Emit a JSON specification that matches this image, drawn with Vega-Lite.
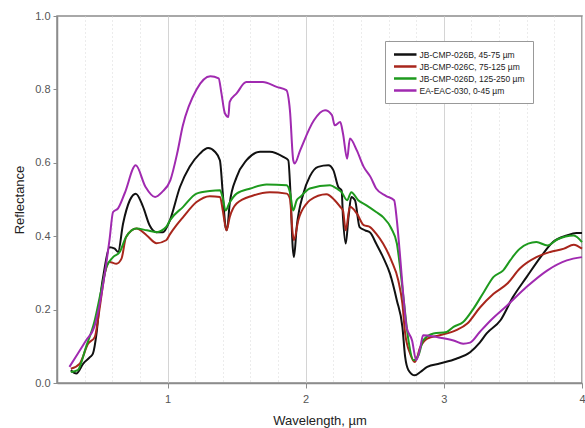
{
  "$schema": "https://vega.github.io/schema/vega-lite/v6.json",
  "width": 525,
  "height": 367,
  "autosize": {"type": "none"},
  "padding": {"left": 57, "top": 16, "right": 3, "bottom": 45},
  "background": "white",
  "config": {
    "font": "Liberation Sans",
    "view": {"stroke": "#8c8c8c", "strokeWidth": 1.5}
  },
  "datasets": {
    "spectra": [
      {"s": "JB-CMP-026B, 45-75 µm", "wl": 0.30, "r": 0.035},
      {"s": "JB-CMP-026B, 45-75 µm", "wl": 0.34, "r": 0.026},
      {"s": "JB-CMP-026B, 45-75 µm", "wl": 0.39, "r": 0.053},
      {"s": "JB-CMP-026B, 45-75 µm", "wl": 0.44, "r": 0.071},
      {"s": "JB-CMP-026B, 45-75 µm", "wl": 0.46, "r": 0.08},
      {"s": "JB-CMP-026B, 45-75 µm", "wl": 0.486, "r": 0.135},
      {"s": "JB-CMP-026B, 45-75 µm", "wl": 0.51, "r": 0.225},
      {"s": "JB-CMP-026B, 45-75 µm", "wl": 0.546, "r": 0.316},
      {"s": "JB-CMP-026B, 45-75 µm", "wl": 0.58, "r": 0.37},
      {"s": "JB-CMP-026B, 45-75 µm", "wl": 0.618, "r": 0.366},
      {"s": "JB-CMP-026B, 45-75 µm", "wl": 0.642, "r": 0.357},
      {"s": "JB-CMP-026B, 45-75 µm", "wl": 0.678, "r": 0.434},
      {"s": "JB-CMP-026B, 45-75 µm", "wl": 0.727, "r": 0.498},
      {"s": "JB-CMP-026B, 45-75 µm", "wl": 0.77, "r": 0.516},
      {"s": "JB-CMP-026B, 45-75 µm", "wl": 0.823, "r": 0.48},
      {"s": "JB-CMP-026B, 45-75 µm", "wl": 0.87, "r": 0.43},
      {"s": "JB-CMP-026B, 45-75 µm", "wl": 0.92, "r": 0.411},
      {"s": "JB-CMP-026B, 45-75 µm", "wl": 0.968, "r": 0.411},
      {"s": "JB-CMP-026B, 45-75 µm", "wl": 1.017, "r": 0.443},
      {"s": "JB-CMP-026B, 45-75 µm", "wl": 1.09, "r": 0.534},
      {"s": "JB-CMP-026B, 45-75 µm", "wl": 1.16, "r": 0.589},
      {"s": "JB-CMP-026B, 45-75 µm", "wl": 1.234, "r": 0.625},
      {"s": "JB-CMP-026B, 45-75 µm", "wl": 1.294, "r": 0.64},
      {"s": "JB-CMP-026B, 45-75 µm", "wl": 1.343, "r": 0.63},
      {"s": "JB-CMP-026B, 45-75 µm", "wl": 1.379, "r": 0.607},
      {"s": "JB-CMP-026B, 45-75 µm", "wl": 1.40, "r": 0.516},
      {"s": "JB-CMP-026B, 45-75 µm", "wl": 1.42, "r": 0.425},
      {"s": "JB-CMP-026B, 45-75 µm", "wl": 1.43, "r": 0.416},
      {"s": "JB-CMP-026B, 45-75 µm", "wl": 1.45, "r": 0.489},
      {"s": "JB-CMP-026B, 45-75 µm", "wl": 1.50, "r": 0.561},
      {"s": "JB-CMP-026B, 45-75 µm", "wl": 1.572, "r": 0.607},
      {"s": "JB-CMP-026B, 45-75 µm", "wl": 1.67, "r": 0.63},
      {"s": "JB-CMP-026B, 45-75 µm", "wl": 1.74, "r": 0.63},
      {"s": "JB-CMP-026B, 45-75 µm", "wl": 1.838, "r": 0.616},
      {"s": "JB-CMP-026B, 45-75 µm", "wl": 1.874, "r": 0.607},
      {"s": "JB-CMP-026B, 45-75 µm", "wl": 1.89, "r": 0.516},
      {"s": "JB-CMP-026B, 45-75 µm", "wl": 1.906, "r": 0.37},
      {"s": "JB-CMP-026B, 45-75 µm", "wl": 1.915, "r": 0.343},
      {"s": "JB-CMP-026B, 45-75 µm", "wl": 1.935, "r": 0.425},
      {"s": "JB-CMP-026B, 45-75 µm", "wl": 1.983, "r": 0.516},
      {"s": "JB-CMP-026B, 45-75 µm", "wl": 2.03, "r": 0.563},
      {"s": "JB-CMP-026B, 45-75 µm", "wl": 2.09, "r": 0.589},
      {"s": "JB-CMP-026B, 45-75 µm", "wl": 2.164, "r": 0.593},
      {"s": "JB-CMP-026B, 45-75 µm", "wl": 2.20, "r": 0.58},
      {"s": "JB-CMP-026B, 45-75 µm", "wl": 2.236, "r": 0.534},
      {"s": "JB-CMP-026B, 45-75 µm", "wl": 2.26, "r": 0.525},
      {"s": "JB-CMP-026B, 45-75 µm", "wl": 2.27, "r": 0.452},
      {"s": "JB-CMP-026B, 45-75 µm", "wl": 2.29, "r": 0.38},
      {"s": "JB-CMP-026B, 45-75 µm", "wl": 2.31, "r": 0.452},
      {"s": "JB-CMP-026B, 45-75 µm", "wl": 2.33, "r": 0.507},
      {"s": "JB-CMP-026B, 45-75 µm", "wl": 2.357, "r": 0.498},
      {"s": "JB-CMP-026B, 45-75 µm", "wl": 2.39, "r": 0.425},
      {"s": "JB-CMP-026B, 45-75 µm", "wl": 2.43, "r": 0.416},
      {"s": "JB-CMP-026B, 45-75 µm", "wl": 2.466, "r": 0.41},
      {"s": "JB-CMP-026B, 45-75 µm", "wl": 2.51, "r": 0.38},
      {"s": "JB-CMP-026B, 45-75 µm", "wl": 2.56, "r": 0.343},
      {"s": "JB-CMP-026B, 45-75 µm", "wl": 2.61, "r": 0.298},
      {"s": "JB-CMP-026B, 45-75 µm", "wl": 2.66, "r": 0.225},
      {"s": "JB-CMP-026B, 45-75 µm", "wl": 2.70, "r": 0.153},
      {"s": "JB-CMP-026B, 45-75 µm", "wl": 2.72, "r": 0.071},
      {"s": "JB-CMP-026B, 45-75 µm", "wl": 2.744, "r": 0.035},
      {"s": "JB-CMP-026B, 45-75 µm", "wl": 2.79, "r": 0.021},
      {"s": "JB-CMP-026B, 45-75 µm", "wl": 2.83, "r": 0.03},
      {"s": "JB-CMP-026B, 45-75 µm", "wl": 2.88, "r": 0.044},
      {"s": "JB-CMP-026B, 45-75 µm", "wl": 2.97, "r": 0.053},
      {"s": "JB-CMP-026B, 45-75 µm", "wl": 3.09, "r": 0.066},
      {"s": "JB-CMP-026B, 45-75 µm", "wl": 3.19, "r": 0.084},
      {"s": "JB-CMP-026B, 45-75 µm", "wl": 3.26, "r": 0.11},
      {"s": "JB-CMP-026B, 45-75 µm", "wl": 3.31, "r": 0.135},
      {"s": "JB-CMP-026B, 45-75 µm", "wl": 3.41, "r": 0.171},
      {"s": "JB-CMP-026B, 45-75 µm", "wl": 3.50, "r": 0.234},
      {"s": "JB-CMP-026B, 45-75 µm", "wl": 3.60, "r": 0.289},
      {"s": "JB-CMP-026B, 45-75 µm", "wl": 3.70, "r": 0.343},
      {"s": "JB-CMP-026B, 45-75 µm", "wl": 3.79, "r": 0.384},
      {"s": "JB-CMP-026B, 45-75 µm", "wl": 3.89, "r": 0.402},
      {"s": "JB-CMP-026B, 45-75 µm", "wl": 3.96, "r": 0.409},
      {"s": "JB-CMP-026B, 45-75 µm", "wl": 4.00, "r": 0.409},

      {"s": "JB-CMP-026C, 75-125 µm", "wl": 0.30, "r": 0.039},
      {"s": "JB-CMP-026C, 75-125 µm", "wl": 0.365, "r": 0.053},
      {"s": "JB-CMP-026C, 75-125 µm", "wl": 0.425, "r": 0.107},
      {"s": "JB-CMP-026C, 75-125 µm", "wl": 0.473, "r": 0.125},
      {"s": "JB-CMP-026C, 75-125 µm", "wl": 0.51, "r": 0.207},
      {"s": "JB-CMP-026C, 75-125 µm", "wl": 0.546, "r": 0.298},
      {"s": "JB-CMP-026C, 75-125 µm", "wl": 0.58, "r": 0.33},
      {"s": "JB-CMP-026C, 75-125 µm", "wl": 0.63, "r": 0.325},
      {"s": "JB-CMP-026C, 75-125 µm", "wl": 0.667, "r": 0.339},
      {"s": "JB-CMP-026C, 75-125 µm", "wl": 0.70, "r": 0.398},
      {"s": "JB-CMP-026C, 75-125 µm", "wl": 0.775, "r": 0.421},
      {"s": "JB-CMP-026C, 75-125 µm", "wl": 0.85, "r": 0.402},
      {"s": "JB-CMP-026C, 75-125 µm", "wl": 0.92, "r": 0.381},
      {"s": "JB-CMP-026C, 75-125 µm", "wl": 0.99, "r": 0.389},
      {"s": "JB-CMP-026C, 75-125 µm", "wl": 1.017, "r": 0.405},
      {"s": "JB-CMP-026C, 75-125 µm", "wl": 1.065, "r": 0.43},
      {"s": "JB-CMP-026C, 75-125 µm", "wl": 1.113, "r": 0.452},
      {"s": "JB-CMP-026C, 75-125 µm", "wl": 1.21, "r": 0.493},
      {"s": "JB-CMP-026C, 75-125 µm", "wl": 1.306, "r": 0.509},
      {"s": "JB-CMP-026C, 75-125 µm", "wl": 1.38, "r": 0.507},
      {"s": "JB-CMP-026C, 75-125 µm", "wl": 1.40, "r": 0.47},
      {"s": "JB-CMP-026C, 75-125 µm", "wl": 1.427, "r": 0.416},
      {"s": "JB-CMP-026C, 75-125 µm", "wl": 1.45, "r": 0.452},
      {"s": "JB-CMP-026C, 75-125 µm", "wl": 1.50, "r": 0.489},
      {"s": "JB-CMP-026C, 75-125 µm", "wl": 1.62, "r": 0.511},
      {"s": "JB-CMP-026C, 75-125 µm", "wl": 1.74, "r": 0.52},
      {"s": "JB-CMP-026C, 75-125 µm", "wl": 1.862, "r": 0.516},
      {"s": "JB-CMP-026C, 75-125 µm", "wl": 1.886, "r": 0.502},
      {"s": "JB-CMP-026C, 75-125 µm", "wl": 1.906, "r": 0.407},
      {"s": "JB-CMP-026C, 75-125 µm", "wl": 1.915, "r": 0.389},
      {"s": "JB-CMP-026C, 75-125 µm", "wl": 1.946, "r": 0.443},
      {"s": "JB-CMP-026C, 75-125 µm", "wl": 2.007, "r": 0.489},
      {"s": "JB-CMP-026C, 75-125 µm", "wl": 2.03, "r": 0.498},
      {"s": "JB-CMP-026C, 75-125 µm", "wl": 2.15, "r": 0.514},
      {"s": "JB-CMP-026C, 75-125 µm", "wl": 2.21, "r": 0.498},
      {"s": "JB-CMP-026C, 75-125 µm", "wl": 2.25, "r": 0.48},
      {"s": "JB-CMP-026C, 75-125 µm", "wl": 2.27, "r": 0.47},
      {"s": "JB-CMP-026C, 75-125 µm", "wl": 2.29, "r": 0.416},
      {"s": "JB-CMP-026C, 75-125 µm", "wl": 2.32, "r": 0.48},
      {"s": "JB-CMP-026C, 75-125 µm", "wl": 2.37, "r": 0.462},
      {"s": "JB-CMP-026C, 75-125 µm", "wl": 2.42, "r": 0.43},
      {"s": "JB-CMP-026C, 75-125 µm", "wl": 2.466, "r": 0.425},
      {"s": "JB-CMP-026C, 75-125 µm", "wl": 2.51, "r": 0.407},
      {"s": "JB-CMP-026C, 75-125 µm", "wl": 2.56, "r": 0.38},
      {"s": "JB-CMP-026C, 75-125 µm", "wl": 2.62, "r": 0.334},
      {"s": "JB-CMP-026C, 75-125 µm", "wl": 2.67, "r": 0.28},
      {"s": "JB-CMP-026C, 75-125 µm", "wl": 2.70, "r": 0.216},
      {"s": "JB-CMP-026C, 75-125 µm", "wl": 2.72, "r": 0.135},
      {"s": "JB-CMP-026C, 75-125 µm", "wl": 2.756, "r": 0.08},
      {"s": "JB-CMP-026C, 75-125 µm", "wl": 2.79, "r": 0.057},
      {"s": "JB-CMP-026C, 75-125 µm", "wl": 2.83, "r": 0.098},
      {"s": "JB-CMP-026C, 75-125 µm", "wl": 2.88, "r": 0.121},
      {"s": "JB-CMP-026C, 75-125 µm", "wl": 2.97, "r": 0.13},
      {"s": "JB-CMP-026C, 75-125 µm", "wl": 3.09, "r": 0.144},
      {"s": "JB-CMP-026C, 75-125 µm", "wl": 3.17, "r": 0.162},
      {"s": "JB-CMP-026C, 75-125 µm", "wl": 3.26, "r": 0.205},
      {"s": "JB-CMP-026C, 75-125 µm", "wl": 3.36, "r": 0.243},
      {"s": "JB-CMP-026C, 75-125 µm", "wl": 3.46, "r": 0.271},
      {"s": "JB-CMP-026C, 75-125 µm", "wl": 3.55, "r": 0.312},
      {"s": "JB-CMP-026C, 75-125 µm", "wl": 3.67, "r": 0.343},
      {"s": "JB-CMP-026C, 75-125 µm", "wl": 3.77, "r": 0.357},
      {"s": "JB-CMP-026C, 75-125 µm", "wl": 3.87, "r": 0.366},
      {"s": "JB-CMP-026C, 75-125 µm", "wl": 3.94, "r": 0.377},
      {"s": "JB-CMP-026C, 75-125 µm", "wl": 4.00, "r": 0.366},

      {"s": "JB-CMP-026D, 125-250 µm", "wl": 0.30, "r": 0.03},
      {"s": "JB-CMP-026D, 125-250 µm", "wl": 0.35, "r": 0.035},
      {"s": "JB-CMP-026D, 125-250 µm", "wl": 0.41, "r": 0.098},
      {"s": "JB-CMP-026D, 125-250 µm", "wl": 0.47, "r": 0.166},
      {"s": "JB-CMP-026D, 125-250 µm", "wl": 0.52, "r": 0.253},
      {"s": "JB-CMP-026D, 125-250 µm", "wl": 0.558, "r": 0.316},
      {"s": "JB-CMP-026D, 125-250 µm", "wl": 0.606, "r": 0.343},
      {"s": "JB-CMP-026D, 125-250 µm", "wl": 0.654, "r": 0.357},
      {"s": "JB-CMP-026D, 125-250 µm", "wl": 0.70, "r": 0.398},
      {"s": "JB-CMP-026D, 125-250 µm", "wl": 0.775, "r": 0.421},
      {"s": "JB-CMP-026D, 125-250 µm", "wl": 0.85, "r": 0.416},
      {"s": "JB-CMP-026D, 125-250 µm", "wl": 0.92, "r": 0.411},
      {"s": "JB-CMP-026D, 125-250 µm", "wl": 0.99, "r": 0.425},
      {"s": "JB-CMP-026D, 125-250 µm", "wl": 1.017, "r": 0.443},
      {"s": "JB-CMP-026D, 125-250 µm", "wl": 1.113, "r": 0.48},
      {"s": "JB-CMP-026D, 125-250 µm", "wl": 1.21, "r": 0.516},
      {"s": "JB-CMP-026D, 125-250 µm", "wl": 1.306, "r": 0.523},
      {"s": "JB-CMP-026D, 125-250 µm", "wl": 1.38, "r": 0.525},
      {"s": "JB-CMP-026D, 125-250 µm", "wl": 1.398, "r": 0.507},
      {"s": "JB-CMP-026D, 125-250 µm", "wl": 1.42, "r": 0.47},
      {"s": "JB-CMP-026D, 125-250 µm", "wl": 1.446, "r": 0.489},
      {"s": "JB-CMP-026D, 125-250 µm", "wl": 1.50, "r": 0.516},
      {"s": "JB-CMP-026D, 125-250 µm", "wl": 1.60, "r": 0.53},
      {"s": "JB-CMP-026D, 125-250 µm", "wl": 1.717, "r": 0.541},
      {"s": "JB-CMP-026D, 125-250 µm", "wl": 1.862, "r": 0.539},
      {"s": "JB-CMP-026D, 125-250 µm", "wl": 1.886, "r": 0.52},
      {"s": "JB-CMP-026D, 125-250 µm", "wl": 1.91, "r": 0.47},
      {"s": "JB-CMP-026D, 125-250 µm", "wl": 1.935, "r": 0.498},
      {"s": "JB-CMP-026D, 125-250 µm", "wl": 1.96, "r": 0.507},
      {"s": "JB-CMP-026D, 125-250 µm", "wl": 2.03, "r": 0.53},
      {"s": "JB-CMP-026D, 125-250 µm", "wl": 2.176, "r": 0.539},
      {"s": "JB-CMP-026D, 125-250 µm", "wl": 2.224, "r": 0.53},
      {"s": "JB-CMP-026D, 125-250 µm", "wl": 2.26, "r": 0.52},
      {"s": "JB-CMP-026D, 125-250 µm", "wl": 2.30, "r": 0.498},
      {"s": "JB-CMP-026D, 125-250 µm", "wl": 2.33, "r": 0.52},
      {"s": "JB-CMP-026D, 125-250 µm", "wl": 2.38, "r": 0.498},
      {"s": "JB-CMP-026D, 125-250 µm", "wl": 2.44, "r": 0.484},
      {"s": "JB-CMP-026D, 125-250 µm", "wl": 2.51, "r": 0.466},
      {"s": "JB-CMP-026D, 125-250 µm", "wl": 2.56, "r": 0.452},
      {"s": "JB-CMP-026D, 125-250 µm", "wl": 2.62, "r": 0.421},
      {"s": "JB-CMP-026D, 125-250 µm", "wl": 2.66, "r": 0.38},
      {"s": "JB-CMP-026D, 125-250 µm", "wl": 2.68, "r": 0.325},
      {"s": "JB-CMP-026D, 125-250 µm", "wl": 2.71, "r": 0.225},
      {"s": "JB-CMP-026D, 125-250 µm", "wl": 2.744, "r": 0.116},
      {"s": "JB-CMP-026D, 125-250 µm", "wl": 2.78, "r": 0.062},
      {"s": "JB-CMP-026D, 125-250 µm", "wl": 2.816, "r": 0.075},
      {"s": "JB-CMP-026D, 125-250 µm", "wl": 2.85, "r": 0.116},
      {"s": "JB-CMP-026D, 125-250 µm", "wl": 2.925, "r": 0.135},
      {"s": "JB-CMP-026D, 125-250 µm", "wl": 3.02, "r": 0.139},
      {"s": "JB-CMP-026D, 125-250 µm", "wl": 3.07, "r": 0.153},
      {"s": "JB-CMP-026D, 125-250 µm", "wl": 3.14, "r": 0.166},
      {"s": "JB-CMP-026D, 125-250 µm", "wl": 3.21, "r": 0.2},
      {"s": "JB-CMP-026D, 125-250 µm", "wl": 3.29, "r": 0.248},
      {"s": "JB-CMP-026D, 125-250 µm", "wl": 3.36, "r": 0.289},
      {"s": "JB-CMP-026D, 125-250 µm", "wl": 3.43, "r": 0.307},
      {"s": "JB-CMP-026D, 125-250 µm", "wl": 3.48, "r": 0.334},
      {"s": "JB-CMP-026D, 125-250 µm", "wl": 3.55, "r": 0.366},
      {"s": "JB-CMP-026D, 125-250 µm", "wl": 3.67, "r": 0.384},
      {"s": "JB-CMP-026D, 125-250 µm", "wl": 3.75, "r": 0.375},
      {"s": "JB-CMP-026D, 125-250 µm", "wl": 3.82, "r": 0.391},
      {"s": "JB-CMP-026D, 125-250 µm", "wl": 3.94, "r": 0.402},
      {"s": "JB-CMP-026D, 125-250 µm", "wl": 4.00, "r": 0.384},

      {"s": "EA-EAC-030, 0-45 µm", "wl": 0.29, "r": 0.044},
      {"s": "EA-EAC-030, 0-45 µm", "wl": 0.41, "r": 0.116},
      {"s": "EA-EAC-030, 0-45 µm", "wl": 0.47, "r": 0.153},
      {"s": "EA-EAC-030, 0-45 µm", "wl": 0.53, "r": 0.26},
      {"s": "EA-EAC-030, 0-45 µm", "wl": 0.58, "r": 0.39},
      {"s": "EA-EAC-030, 0-45 µm", "wl": 0.606, "r": 0.466},
      {"s": "EA-EAC-030, 0-45 µm", "wl": 0.642, "r": 0.476},
      {"s": "EA-EAC-030, 0-45 µm", "wl": 0.69, "r": 0.517},
      {"s": "EA-EAC-030, 0-45 µm", "wl": 0.77, "r": 0.593},
      {"s": "EA-EAC-030, 0-45 µm", "wl": 0.84, "r": 0.535},
      {"s": "EA-EAC-030, 0-45 µm", "wl": 0.91, "r": 0.507},
      {"s": "EA-EAC-030, 0-45 µm", "wl": 0.96, "r": 0.52},
      {"s": "EA-EAC-030, 0-45 µm", "wl": 1.02, "r": 0.552},
      {"s": "EA-EAC-030, 0-45 µm", "wl": 1.07, "r": 0.626},
      {"s": "EA-EAC-030, 0-45 µm", "wl": 1.11, "r": 0.70},
      {"s": "EA-EAC-030, 0-45 µm", "wl": 1.21, "r": 0.80},
      {"s": "EA-EAC-030, 0-45 µm", "wl": 1.31, "r": 0.836},
      {"s": "EA-EAC-030, 0-45 µm", "wl": 1.37, "r": 0.83},
      {"s": "EA-EAC-030, 0-45 µm", "wl": 1.39, "r": 0.79},
      {"s": "EA-EAC-030, 0-45 µm", "wl": 1.415, "r": 0.735},
      {"s": "EA-EAC-030, 0-45 µm", "wl": 1.44, "r": 0.725},
      {"s": "EA-EAC-030, 0-45 µm", "wl": 1.45, "r": 0.766},
      {"s": "EA-EAC-030, 0-45 µm", "wl": 1.50, "r": 0.789},
      {"s": "EA-EAC-030, 0-45 µm", "wl": 1.57, "r": 0.82},
      {"s": "EA-EAC-030, 0-45 µm", "wl": 1.69, "r": 0.82},
      {"s": "EA-EAC-030, 0-45 µm", "wl": 1.79, "r": 0.807},
      {"s": "EA-EAC-030, 0-45 µm", "wl": 1.86, "r": 0.798},
      {"s": "EA-EAC-030, 0-45 µm", "wl": 1.886, "r": 0.743},
      {"s": "EA-EAC-030, 0-45 µm", "wl": 1.91, "r": 0.607},
      {"s": "EA-EAC-030, 0-45 µm", "wl": 1.92, "r": 0.598},
      {"s": "EA-EAC-030, 0-45 µm", "wl": 1.96, "r": 0.634},
      {"s": "EA-EAC-030, 0-45 µm", "wl": 2.06, "r": 0.716},
      {"s": "EA-EAC-030, 0-45 µm", "wl": 2.14, "r": 0.743},
      {"s": "EA-EAC-030, 0-45 µm", "wl": 2.19, "r": 0.73},
      {"s": "EA-EAC-030, 0-45 µm", "wl": 2.21, "r": 0.702},
      {"s": "EA-EAC-030, 0-45 µm", "wl": 2.25, "r": 0.711},
      {"s": "EA-EAC-030, 0-45 µm", "wl": 2.27, "r": 0.68},
      {"s": "EA-EAC-030, 0-45 µm", "wl": 2.30, "r": 0.611},
      {"s": "EA-EAC-030, 0-45 µm", "wl": 2.32, "r": 0.666},
      {"s": "EA-EAC-030, 0-45 µm", "wl": 2.37, "r": 0.634},
      {"s": "EA-EAC-030, 0-45 µm", "wl": 2.42, "r": 0.589},
      {"s": "EA-EAC-030, 0-45 µm", "wl": 2.47, "r": 0.561},
      {"s": "EA-EAC-030, 0-45 µm", "wl": 2.51, "r": 0.53},
      {"s": "EA-EAC-030, 0-45 µm", "wl": 2.58, "r": 0.51},
      {"s": "EA-EAC-030, 0-45 µm", "wl": 2.64, "r": 0.498},
      {"s": "EA-EAC-030, 0-45 µm", "wl": 2.66, "r": 0.443},
      {"s": "EA-EAC-030, 0-45 µm", "wl": 2.68, "r": 0.36},
      {"s": "EA-EAC-030, 0-45 µm", "wl": 2.71, "r": 0.225},
      {"s": "EA-EAC-030, 0-45 µm", "wl": 2.73, "r": 0.153},
      {"s": "EA-EAC-030, 0-45 µm", "wl": 2.77, "r": 0.116},
      {"s": "EA-EAC-030, 0-45 µm", "wl": 2.80, "r": 0.062},
      {"s": "EA-EAC-030, 0-45 µm", "wl": 2.83, "r": 0.098},
      {"s": "EA-EAC-030, 0-45 µm", "wl": 2.85, "r": 0.13},
      {"s": "EA-EAC-030, 0-45 µm", "wl": 2.95, "r": 0.125},
      {"s": "EA-EAC-030, 0-45 µm", "wl": 3.07, "r": 0.116},
      {"s": "EA-EAC-030, 0-45 µm", "wl": 3.14, "r": 0.107},
      {"s": "EA-EAC-030, 0-45 µm", "wl": 3.19, "r": 0.11},
      {"s": "EA-EAC-030, 0-45 µm", "wl": 3.26, "r": 0.139},
      {"s": "EA-EAC-030, 0-45 µm", "wl": 3.34, "r": 0.171},
      {"s": "EA-EAC-030, 0-45 µm", "wl": 3.46, "r": 0.212},
      {"s": "EA-EAC-030, 0-45 µm", "wl": 3.60, "r": 0.262},
      {"s": "EA-EAC-030, 0-45 µm", "wl": 3.75, "r": 0.307},
      {"s": "EA-EAC-030, 0-45 µm", "wl": 3.89, "r": 0.334},
      {"s": "EA-EAC-030, 0-45 µm", "wl": 4.00, "r": 0.343}
    ]
  },
  "layer": [
    {
      "data": {"name": "spectra"},
      "mark": {"type": "line", "strokeWidth": 2, "interpolate": "monotone"},
      "encoding": {
        "x": {
          "field": "wl",
          "type": "quantitative",
          "scale": {"domain": [0.2, 4], "nice": false, "zero": false},
          "axis": {
            "title": "Wavelength, µm",
            "titleFont": "Liberation Sans",
            "titleFontSize": 13,
            "titleFontWeight": "normal",
            "titleColor": "#222",
            "titlePadding": 10,
            "values": [0.4, 0.6, 0.8, 1, 1.2, 1.4, 1.6, 1.8, 2, 2.2, 2.4, 2.6, 2.8, 3, 3.2, 3.4, 3.6, 3.8, 4],
            "tickCount": 100,
            "format": ".0f",
            "labelExpr": "datum.value % 1 === 0 ? datum.label : ''",
            "labelOverlap": false,
            "labelFlush": false,
            "labelFontSize": 11,
            "labelColor": "#555",
            "labelPadding": 5,
            "domainColor": "#8c8c8c",
            "domainWidth": 1.5,
            "tickColor": "#8c8c8c",
            "tickSize": 5,
            "tickWidth": 1,
            "tickOpacity": {"condition": {"test": "datum.value % 1 === 0", "value": 1}, "value": 0},
            "grid": true,
            "gridColor": {"condition": {"test": "datum.value % 1 === 0", "value": "#d4d4d4"}, "value": "#d8d8d8"},
            "gridDash": {"condition": {"test": "datum.value % 1 === 0", "value": []}, "value": [1, 3]},
            "gridWidth": 1
          }
        },
        "y": {
          "field": "r",
          "type": "quantitative",
          "scale": {"domain": [0, 1], "nice": false},
          "axis": {
            "title": "Reflectance",
            "titleFont": "Liberation Sans",
            "titleFontSize": 13,
            "titleFontWeight": "normal",
            "titleColor": "#222",
            "titlePadding": 8,
            "values": [0, 0.2, 0.4, 0.6, 0.8, 1],
            "tickCount": 100,
            "format": ".1f",
            "labelFontSize": 11,
            "labelColor": "#555",
            "labelPadding": 3,
            "domainColor": "#8c8c8c",
            "domainWidth": 1.5,
            "tickColor": "#8c8c8c",
            "tickSize": 4,
            "grid": false
          }
        },
        "color": {
          "field": "s",
          "type": "nominal",
          "scale": {
            "domain": ["JB-CMP-026B, 45-75 µm", "JB-CMP-026C, 75-125 µm", "JB-CMP-026D, 125-250 µm", "EA-EAC-030, 0-45 µm"],
            "range": ["#111111", "#a8261c", "#1e9a1e", "#a02ab0"]
          },
          "legend": {
            "title": null,
            "orient": "none",
            "legendX": 328,
            "legendY": 25,
            "symbolType": "M-1,0H4",
            "symbolSize": 81,
            "symbolStrokeWidth": 2.5,
            "labelFont": "Liberation Sans",
            "labelFontSize": 8.5,
            "labelColor": "#222",
            "labelOffset": 15,
            "strokeColor": "#999999",
            "fillColor": "white",
            "padding": 7.5,
            "rowPadding": 1
          }
        }
      }
    },
    {
      "mark": {"type": "text", "align": "left", "baseline": "middle", "font": "Liberation Sans", "fontSize": 14.5, "color": "#222"},
      "encoding": {
        "x": {"datum": 0.43, "type": "quantitative"},
        "y": {"datum": 0.896, "type": "quantitative"},
        "text": {"value": "Nontronite"}
      }
    }
  ]
}
